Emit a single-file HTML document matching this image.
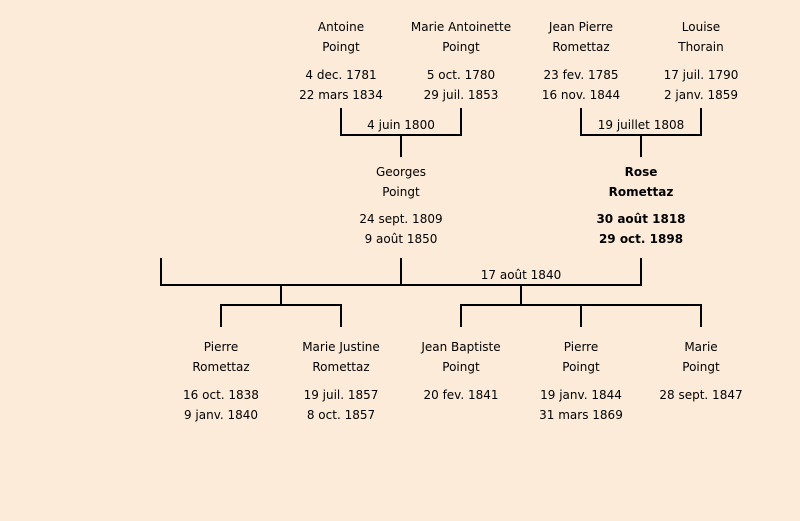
<!DOCTYPE html>
<html><head><meta charset="utf-8"><style>
body{margin:0;width:800px;height:521px;background:#fcebd8;position:relative;overflow:hidden;font-family:"DejaVu Sans","Liberation Sans",sans-serif;font-size:12px;color:#000}
.t{position:absolute;width:160px;margin-left:-80px;text-align:center;line-height:20px;white-space:nowrap}
.b{font-weight:bold}
svg{position:absolute;left:0;top:0}
</style></head><body>
<svg width="800" height="521" stroke="#000" stroke-width="2" fill="none">
<path d="M341 108V135H461V108M401 135V157"/>
<path d="M581 108V135H701V108M641 135V157"/>
<path d="M161 258V285H641V258M401 258V285"/>
<path d="M281 285V305M221 327V305H341V327"/>
<path d="M521 285V305M461 327V305H701V327M581 305V327"/>
</svg>
<div class="t" style="left:341px;top:17px">Antoine<br>Poingt</div>
<div class="t" style="left:341px;top:65px">4 dec. 1781<br>22 mars 1834</div>
<div class="t" style="left:461px;top:17px">Marie Antoinette<br>Poingt</div>
<div class="t" style="left:461px;top:65px">5 oct. 1780<br>29 juil. 1853</div>
<div class="t" style="left:581px;top:17px">Jean Pierre<br>Romettaz</div>
<div class="t" style="left:581px;top:65px">23 fev. 1785<br>16 nov. 1844</div>
<div class="t" style="left:701px;top:17px">Louise<br>Thorain</div>
<div class="t" style="left:701px;top:65px">17 juil. 1790<br>2 janv. 1859</div>
<div class="t" style="left:401px;top:115px">4 juin 1800</div>
<div class="t" style="left:641px;top:115px">19 juillet 1808</div>
<div class="t" style="left:401px;top:162px">Georges<br>Poingt</div>
<div class="t" style="left:401px;top:209px">24 sept. 1809<br>9 août 1850</div>
<div class="t b" style="left:641px;top:162px">Rose<br>Romettaz</div>
<div class="t b" style="left:641px;top:209px">30 août 1818<br>29 oct. 1898</div>
<div class="t" style="left:521px;top:265px">17 août 1840</div>
<div class="t" style="left:221px;top:337px">Pierre<br>Romettaz</div>
<div class="t" style="left:221px;top:385px">16 oct. 1838<br>9 janv. 1840</div>
<div class="t" style="left:341px;top:337px">Marie Justine<br>Romettaz</div>
<div class="t" style="left:341px;top:385px">19 juil. 1857<br>8 oct. 1857</div>
<div class="t" style="left:461px;top:337px">Jean Baptiste<br>Poingt</div>
<div class="t" style="left:461px;top:385px">20 fev. 1841</div>
<div class="t" style="left:581px;top:337px">Pierre<br>Poingt</div>
<div class="t" style="left:581px;top:385px">19 janv. 1844<br>31 mars 1869</div>
<div class="t" style="left:701px;top:337px">Marie<br>Poingt</div>
<div class="t" style="left:701px;top:385px">28 sept. 1847</div>
</body></html>
